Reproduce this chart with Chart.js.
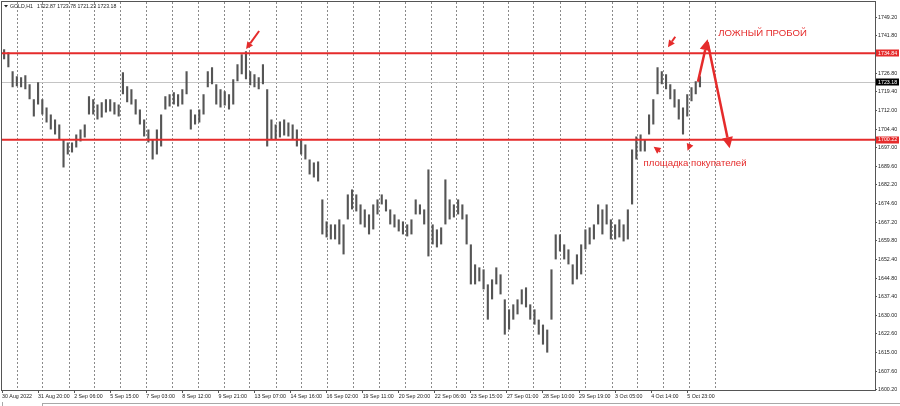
<!DOCTYPE html>
<html>
<head>
<meta charset="utf-8">
<title>GOLD,H1</title>
<script src="https://cdn.jsdelivr.net/npm/chart.js@4.4.1/dist/chart.umd.min.js"></script>
<style>
  html, body { margin: 0; padding: 0; background: #fff; }
</style>
</head>
<body>
<canvas id="goldChart" width="900" height="406"></canvas>
<script>
// GOLD H1 chart, 30 Aug - 6 Oct 2022. Hourly bars,
// grouped by 4 bars (high / low of each group).

const firstBar = 2;
const barStep = 4;

const highs = [
  1736.4, 1735.2, 1727.6, 1725.6, 1725.2, 1726.0, 1722.4, 1716.4, 1723.2, 1716.4,
  1713.1, 1710.3, 1708.3, 1706.3, 1700.3, 1699.1, 1699.1, 1702.3, 1704.3, 1706.3,
  1717.6, 1716.4, 1714.3, 1715.2, 1716.4, 1716.4, 1715.2, 1714.3, 1727.2, 1721.6,
  1720.4, 1716.4, 1712.3, 1708.3, 1704.3, 1700.3, 1704.3, 1710.3, 1717.6, 1718.4,
  1719.2, 1718.4, 1720.4, 1727.6, 1712.3, 1710.3, 1712.3, 1718.4, 1727.6, 1729.2,
  1722.4, 1720.4, 1719.6, 1718.4, 1724.4, 1730.4, 1734.4, 1735.6, 1727.6, 1726.4,
  1725.2, 1730.4, 1720.4, 1708.3, 1706.3, 1707.5, 1708.3, 1707.1, 1706.3, 1704.3,
  1700.3, 1698.3, 1692.3, 1691.1, 1691.5, 1676.3, 1667.5, 1666.3, 1666.3, 1668.3,
  1666.3, 1678.3, 1680.3, 1678.3, 1674.3, 1672.3, 1670.3, 1674.3, 1676.3, 1678.3,
  1676.3, 1672.3, 1670.3, 1668.3, 1667.5, 1666.3, 1668.3, 1676.3, 1674.3, 1672.3,
  1688.3, 1666.3, 1664.3, 1665.1, 1684.3, 1676.3, 1674.3, 1676.3, 1674.3, 1670.3,
  1658.3, 1650.3, 1649.1, 1648.3, 1642.3, 1644.3, 1649.1, 1646.3, 1636.3, 1632.3,
  1634.3, 1636.3, 1640.3, 1641.1, 1634.3, 1632.3, 1628.2, 1626.2, 1624.2, 1648.3,
  1662.3, 1662.3, 1658.3, 1656.3, 1650.3, 1654.3, 1658.3, 1664.3, 1665.1, 1666.3,
  1674.3, 1672.3, 1674.3, 1668.3, 1666.3, 1668.3, 1666.3, 1672.3, 1696.3, 1701.5,
  1702.3, 1700.3, 1710.3, 1716.4, 1729.2, 1727.6, 1726.4, 1722.4, 1720.4, 1716.4,
  1713.1, 1718.4, 1721.2, 1723.6, 1725.6
];

const lows = [
  1732.4, 1729.2, 1721.2, 1721.6, 1721.2, 1720.4, 1716.4, 1709.5, 1714.3, 1710.3,
  1707.1, 1704.3, 1702.3, 1700.3, 1689.1, 1694.3, 1695.1, 1697.1, 1699.5, 1701.1,
  1710.3, 1710.3, 1708.3, 1709.1, 1711.1, 1711.5, 1710.3, 1709.5, 1718.4, 1715.2,
  1714.3, 1710.3, 1706.3, 1701.5, 1699.1, 1692.3, 1694.3, 1697.5, 1712.3, 1713.5,
  1714.3, 1713.5, 1714.3, 1718.4, 1704.3, 1706.3, 1707.1, 1710.3, 1721.2, 1722.4,
  1714.3, 1713.1, 1713.9, 1712.3, 1714.3, 1723.6, 1726.4, 1724.4, 1722.0, 1721.2,
  1720.4, 1722.4, 1697.5, 1700.3, 1700.3, 1701.1, 1701.9, 1701.5, 1700.3, 1697.5,
  1694.3, 1692.3, 1686.3, 1685.1, 1683.5, 1662.3, 1661.1, 1660.3, 1660.3, 1658.3,
  1654.3, 1668.3, 1672.3, 1671.5, 1666.3, 1665.1, 1662.3, 1664.3, 1670.3, 1674.3,
  1671.5, 1666.3, 1665.1, 1663.5, 1662.3, 1661.5, 1662.3, 1670.3, 1670.3, 1666.3,
  1653.5, 1658.3, 1657.1, 1658.3, 1666.3, 1668.3, 1669.1, 1670.3, 1668.3, 1658.3,
  1642.3, 1642.3, 1643.5, 1640.3, 1628.2, 1636.3, 1642.3, 1638.3, 1622.2, 1624.2,
  1628.2, 1630.3, 1634.3, 1633.1, 1628.2, 1626.2, 1622.2, 1618.2, 1615.0, 1628.2,
  1652.3, 1655.5, 1652.3, 1650.3, 1642.3, 1644.3, 1646.3, 1656.3, 1658.3, 1660.3,
  1666.3, 1662.3, 1666.3, 1660.3, 1660.3, 1661.1, 1659.5, 1660.3, 1674.3, 1692.3,
  1695.5, 1695.5, 1702.3, 1706.3, 1718.4, 1722.4, 1720.4, 1716.4, 1713.1, 1708.3,
  1702.3, 1709.5, 1715.6, 1718.4, 1721.2
];

const timeLabels = [
  '30 Aug 2022', '31 Aug 20:00', '2 Sep 06:00', '5 Sep 15:00', '7 Sep 03:00',
  '8 Sep 12:00', '9 Sep 21:00', '13 Sep 07:00', '14 Sep 16:00', '16 Sep 02:00',
  '19 Sep 11:00', '20 Sep 20:00', '22 Sep 06:00', '23 Sep 15:00', '27 Sep 01:00',
  '28 Sep 10:00', '29 Sep 19:00', '3 Oct 05:00', '4 Oct 14:00', '5 Oct 23:00'
];
const labelBars = [0, 34, 68, 102, 136, 170, 204, 238, 272, 306,
  340, 374, 408, 442, 476, 510, 544, 578, 612, 646];
const dayBars = [14, 38, 63, 87, 111, 136, 160, 185, 209, 233, 258, 282, 306, 331,
  355, 380, 404, 428, 453, 477, 501, 526, 550, 575, 599, 623, 648, 672];

const priceTicks = [1749.20, 1741.80, 1734.40, 1726.80, 1719.40, 1712.00, 1704.40,
  1697.00, 1689.60, 1682.20, 1674.60, 1667.20, 1659.80, 1652.40, 1644.80, 1637.40,
  1630.00, 1622.60, 1615.00, 1607.60, 1600.20];

const resistanceLevel = 1734.84;
const supportLevel = 1700.22;
const lastPrice = 1723.18;
const titleQuote = 'GOLD,H1';
const titleValues = '1722.87 1723.78 1721.23 1723.18';

// hand drawn marks, as [bar, price]
const pointerArrows = [
  [[242.4, 1743.7], [230.1, 1736.5]],
  [[634.7, 1741.4], [627.8, 1737.2]],
  [[620.6, 1695.4], [614.3, 1697.4]],
  [[648.2, 1697.9], [646.3, 1695.8]]
];
const fakeBreakPath = [[656.1, 1723.4], [665.2, 1740.4], [686.0, 1696.8]];
const captions = [
  { text: 'ЛОЖНЫЙ ПРОБОЙ', at: [675.3, 1742.6] },
  { text: 'площадка покупателей', at: [604.8, 1690.7] }
];

const RED = '#e52b2b';
const AXIS_FONT = 'Liberation Sans, Arial, sans-serif';

const drawArrow = (ctx, x1, y1, x2, y2, width, head) => {
  const ang = Math.atan2(y2 - y1, x2 - x1);
  const bx = x2 - head * Math.cos(ang);
  const by = y2 - head * Math.sin(ang);
  ctx.lineWidth = width;
  ctx.beginPath();
  ctx.moveTo(x1, y1);
  ctx.lineTo(bx, by);
  ctx.stroke();
  const half = head * 0.5;
  ctx.beginPath();
  ctx.moveTo(x2, y2);
  ctx.lineTo(bx + half * Math.sin(ang), by - half * Math.cos(ang));
  ctx.lineTo(bx - half * Math.sin(ang), by + half * Math.cos(ang));
  ctx.closePath();
  ctx.fill();
};

const overlayPlugin = {
  id: 'overlay',
  beforeDraw(chart) {
    const { ctx, width, height } = chart;
    ctx.save();
    ctx.fillStyle = '#ffffff';
    ctx.fillRect(0, 0, width, height);
    ctx.restore();
  },
  beforeDatasetsDraw(chart) {
    const { ctx, chartArea, scales } = chart;
    ctx.save();
    ctx.strokeStyle = '#8a8a8a';
    ctx.lineWidth = 1;
    ctx.setLineDash([2, 2]);
    dayBars.forEach((b) => {
      const x = Math.round(scales.x.getPixelForValue(b)) + 0.5;
      ctx.beginPath();
      ctx.moveTo(x, chartArea.top);
      ctx.lineTo(x, chartArea.bottom);
      ctx.stroke();
    });
    ctx.setLineDash([]);
    const yl = Math.round(scales.y.getPixelForValue(lastPrice)) + 0.5;
    ctx.strokeStyle = '#c4c4c4';
    ctx.beginPath();
    ctx.moveTo(chartArea.left, yl);
    ctx.lineTo(chartArea.right, yl);
    ctx.stroke();
    ctx.restore();
  },
  afterDatasetsDraw(chart) {
    const { ctx, chartArea, scales } = chart;
    const px = (p) => [scales.x.getPixelForValue(p[0]), scales.y.getPixelForValue(p[1])];
    ctx.save();
    ctx.strokeStyle = RED;
    ctx.fillStyle = RED;
    ctx.lineWidth = 2;
    [resistanceLevel, supportLevel].forEach((v) => {
      const y = scales.y.getPixelForValue(v);
      ctx.beginPath();
      ctx.moveTo(chartArea.left, y);
      ctx.lineTo(chartArea.right, y);
      ctx.stroke();
    });

    pointerArrows.forEach(([from, to]) => {
      const a = px(from);
      const b = px(to);
      drawArrow(ctx, a[0], a[1], b[0], b[1], 2, 7);
    });

    const p0 = px(fakeBreakPath[0]);
    const p1 = px(fakeBreakPath[1]);
    const p2 = px(fakeBreakPath[2]);
    drawArrow(ctx, p0[0], p0[1], p1[0], p1[1], 2.5, 11);
    drawArrow(ctx, p1[0], p1[1] + 3, p2[0], p2[1], 2.5, 11);

    ctx.font = '9.6px "Liberation Sans", Arial, sans-serif';
    ctx.textBaseline = 'middle';
    ctx.textAlign = 'left';
    captions.forEach((c) => {
      const p = px(c.at);
      ctx.fillText(c.text, p[0], p[1]);
    });
    ctx.restore();
  },
  afterDraw(chart) {
    const { ctx, chartArea, scales, width, height } = chart;
    ctx.save();
    // frame
    ctx.strokeStyle = '#555555';
    ctx.lineWidth = 1;
    ctx.strokeRect(chartArea.left - 0.5, chartArea.top - 0.5,
      chartArea.right - chartArea.left + 1, chartArea.bottom - chartArea.top + 1);

    // price boxes on the axis
    const boxes = [
      { v: resistanceLevel, bg: RED },
      { v: supportLevel, bg: RED },
      { v: lastPrice, bg: '#000000' }
    ];
    ctx.font = '5.3px ' + AXIS_FONT;
    ctx.textBaseline = 'middle';
    ctx.textAlign = 'left';
    boxes.forEach((b) => {
      const y = scales.y.getPixelForValue(b.v);
      ctx.fillStyle = b.bg;
      ctx.fillRect(chartArea.right + 1, Math.round(y) - 3.5, 23, 7);
      ctx.fillStyle = '#ffffff';
      ctx.fillText(b.v.toFixed(2), chartArea.right + 3, y);
    });

    // symbol line in the corner
    ctx.fillStyle = '#222222';
    ctx.beginPath();
    ctx.moveTo(4, 5);
    ctx.lineTo(8, 5);
    ctx.lineTo(6, 7.5);
    ctx.closePath();
    ctx.fill();
    ctx.font = '5.2px ' + AXIS_FONT;
    ctx.fillText(titleQuote, 10, 6.5);
    ctx.fillText(titleValues, 37, 6.5);

    // tab strip under the chart
    ctx.strokeStyle = '#a8a8a8';
    ctx.beginPath();
    ctx.moveTo(42, height - 2.5);
    ctx.lineTo(width, height - 2.5);
    ctx.moveTo(42.5, height - 2.5);
    ctx.lineTo(42.5, height);
    ctx.moveTo(2.5, height - 4);
    ctx.lineTo(2.5, height);
    ctx.stroke();
    ctx.restore();
  }
};

new Chart(document.getElementById('goldChart'), {
  type: 'bar',
  data: {
    datasets: [
      {
        label: 'GOLD,H1',
        data: highs.map((h, i) => ({ x: firstBar + barStep * i, y: [lows[i], h] })),
        backgroundColor: '#555555',
        borderWidth: 0,
        barPercentage: 0.5,
        categoryPercentage: 1.0,
      },
    ],
  },
  options: {
    responsive: false,
    animation: false,
    events: [],
    layout: {
      padding: { left: 2, top: 2, right: 0, bottom: 0 },
    },
    plugins: {
      legend: { display: false },
      tooltip: { enabled: false },
    },
    scales: {
      x: {
        type: 'linear',
        min: 0,
        max: 823,
        offset: false,
        afterBuildTicks: (axis) => {
          axis.ticks = labelBars.map((v) => ({ value: v }));
        },
        afterFit: (axis) => {
          axis.height = 16;
          axis.paddingLeft = 0;
          axis.paddingRight = 0;
        },
        grid: {
          display: true,
          drawOnChartArea: false,
          drawTicks: true,
          tickLength: 3,
          color: '#555555',
          offset: false,
        },
        border: { display: false },
        ticks: {
          autoSkip: false,
          maxRotation: 0,
          align: 'start',
          padding: 0,
          color: '#222222',
          font: { size: 5.3, family: AXIS_FONT },
          callback: (value, index) => timeLabels[index],
        },
      },
      y: {
        type: 'linear',
        position: 'right',
        min: 1600.03,
        max: 1755.32,
        afterBuildTicks: (axis) => {
          axis.ticks = priceTicks.map((v) => ({ value: v }));
        },
        afterFit: (axis) => {
          axis.width = 25;
          axis.paddingTop = 0;
          axis.paddingBottom = 0;
        },
        grid: {
          display: true,
          drawOnChartArea: false,
          drawTicks: true,
          tickLength: 2,
          color: '#555555',
        },
        border: { display: false },
        ticks: {
          autoSkip: false,
          padding: 1,
          color: '#222222',
          font: { size: 5.3, family: AXIS_FONT },
          callback: (value) => Number(value).toFixed(2),
        },
      },
    },
  },
  plugins: [overlayPlugin],
});
</script>
</body>
</html>
